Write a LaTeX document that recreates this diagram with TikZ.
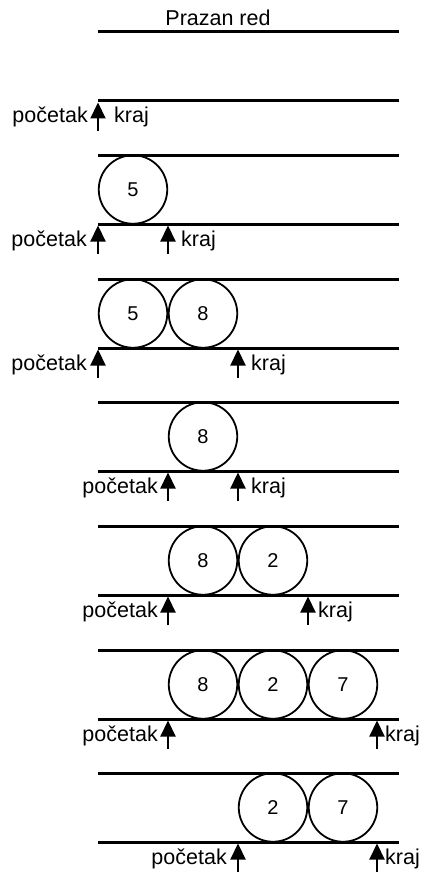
\documentclass[tikz,border=0pt]{standalone}
\usepackage{fontspec}
\setmainfont{Liberation Sans}
\usetikzlibrary{arrows.meta}
\begin{document}
\begin{tikzpicture}[x=1pt,y=-1pt,
  rail/.style={line width=3pt},
  elem/.style={circle,draw,line width=1.8pt,minimum size=68.5pt,inner sep=0pt,font=\fontsize{20}{24}\selectfont},
  ptr/.style={line width=2.2pt,-{Triangle[length=16pt,width=15pt]}},
  lbl/.style={font=\fontsize{21.5}{25}\selectfont,inner sep=0pt}]
\useasboundingbox (0,0) rectangle (425,872);
% title
\node[lbl,anchor=base] (title) at (218,26) {Prazan red};
\coordinate (t0a) at (98,31.5); \coordinate (t0b) at (399,31.5);
\draw[rail] (t0a) -- (t0b);
% empty queue
\coordinate (e0a) at (98,101); \coordinate (e0b) at (399,101);
\draw[rail] (e0a) -- (e0b);
\coordinate (ea) at (98,131); \coordinate (eat) at (98,102.5);
\draw[ptr] (ea) -- (eat);
\node[lbl,anchor=base east] (pe) at (88,123) {početak};
\node[lbl,anchor=base west] (ke) at (114,123) {kraj};
% queue 1
\coordinate (q1ta) at (98,155); \coordinate (q1tb) at (399,155);
\coordinate (q1ba) at (98,224); \coordinate (q1bb) at (399,224);
\draw[rail] (q1ta) -- (q1tb); \draw[rail] (q1ba) -- (q1bb);
\node[elem] (c1a) at (133,189.5) {5};
\coordinate (q1ps) at (98,254); \coordinate (q1pt) at (98,225.5);
\coordinate (q1ks) at (168,254); \coordinate (q1kt) at (168,225.5);
\draw[ptr] (q1ps) -- (q1pt); \draw[ptr] (q1ks) -- (q1kt);
\node[lbl,anchor=base east] (p1) at (87,246) {početak};
\node[lbl,anchor=base west] (k1) at (181,246) {kraj};
% queue 2
\coordinate (q2ta) at (98,279); \coordinate (q2tb) at (399,279);
\coordinate (q2ba) at (98,348); \coordinate (q2bb) at (399,348);
\draw[rail] (q2ta) -- (q2tb); \draw[rail] (q2ba) -- (q2bb);
\node[elem] (c2a) at (133,313.5) {5};
\node[elem] (c2b) at (203,313.5) {8};
\coordinate (q2ps) at (98,378); \coordinate (q2pt) at (98,349.5);
\coordinate (q2ks) at (238,378); \coordinate (q2kt) at (238,349.5);
\draw[ptr] (q2ps) -- (q2pt); \draw[ptr] (q2ks) -- (q2kt);
\node[lbl,anchor=base east] (p2) at (87,370) {početak};
\node[lbl,anchor=base west] (k2) at (251,370) {kraj};
% queue 3
\coordinate (q3ta) at (98,402); \coordinate (q3tb) at (399,402);
\coordinate (q3ba) at (98,471); \coordinate (q3bb) at (399,471);
\draw[rail] (q3ta) -- (q3tb); \draw[rail] (q3ba) -- (q3bb);
\node[elem] (c3a) at (203,436.5) {8};
\coordinate (q3ps) at (168,501); \coordinate (q3pt) at (168,472.5);
\coordinate (q3ks) at (238,501); \coordinate (q3kt) at (238,472.5);
\draw[ptr] (q3ps) -- (q3pt); \draw[ptr] (q3ks) -- (q3kt);
\node[lbl,anchor=base east] (p3) at (158,493) {početak};
\node[lbl,anchor=base west] (k3) at (251,493) {kraj};
% queue 4
\coordinate (q4ta) at (98,526); \coordinate (q4tb) at (399,526);
\coordinate (q4ba) at (98,595); \coordinate (q4bb) at (399,595);
\draw[rail] (q4ta) -- (q4tb); \draw[rail] (q4ba) -- (q4bb);
\node[elem] (c4a) at (203,560.5) {8};
\node[elem] (c4b) at (273,560.5) {2};
\coordinate (q4ps) at (168,625); \coordinate (q4pt) at (168,596.5);
\coordinate (q4ks) at (308,625); \coordinate (q4kt) at (308,596.5);
\draw[ptr] (q4ps) -- (q4pt); \draw[ptr] (q4ks) -- (q4kt);
\node[lbl,anchor=base east] (p4) at (158,617) {početak};
\node[lbl,anchor=base west] (k4) at (318,617) {kraj};
% queue 5
\coordinate (q5ta) at (98,650); \coordinate (q5tb) at (399,650);
\coordinate (q5ba) at (98,719); \coordinate (q5bb) at (399,719);
\draw[rail] (q5ta) -- (q5tb); \draw[rail] (q5ba) -- (q5bb);
\node[elem] (c5a) at (203,684.5) {8};
\node[elem] (c5b) at (273,684.5) {2};
\node[elem] (c5c) at (343,684.5) {7};
\coordinate (q5ps) at (168,749); \coordinate (q5pt) at (168,720.5);
\coordinate (q5ks) at (377,749); \coordinate (q5kt) at (377,720.5);
\draw[ptr] (q5ps) -- (q5pt); \draw[ptr] (q5ks) -- (q5kt);
\node[lbl,anchor=base east] (p5) at (158,741) {početak};
\node[lbl,anchor=base west] (k5) at (385,741) {kraj};
% queue 6
\coordinate (q6ta) at (98,773); \coordinate (q6tb) at (399,773);
\coordinate (q6ba) at (98,842); \coordinate (q6bb) at (399,842);
\draw[rail] (q6ta) -- (q6tb); \draw[rail] (q6ba) -- (q6bb);
\node[elem] (c6a) at (273,807.5) {2};
\node[elem] (c6b) at (343,807.5) {7};
\coordinate (q6ps) at (238,872); \coordinate (q6pt) at (238,843.5);
\coordinate (q6ks) at (377,872); \coordinate (q6kt) at (377,843.5);
\draw[ptr] (q6ps) -- (q6pt); \draw[ptr] (q6ks) -- (q6kt);
\node[lbl,anchor=base east] (p6) at (227,864) {početak};
\node[lbl,anchor=base west] (k6) at (385,864) {kraj};
\end{tikzpicture}
\end{document}
